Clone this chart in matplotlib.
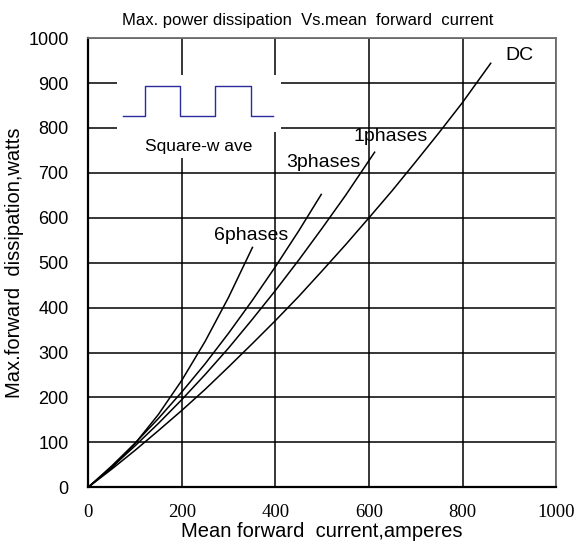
import matplotlib.pyplot as plt
from matplotlib.patches import Rectangle

# Curves (current in A, power in W)
dc_x = [0, 50, 100, 150, 200, 250, 300, 350, 400, 450, 500, 550, 600, 650, 700, 750, 800, 860]
dc_y = [0, 40, 82, 126, 171, 218, 268, 319, 371, 425, 482, 540, 600, 661, 725, 790, 857, 944]

ph1_x = [0, 50, 100, 150, 200, 250, 300, 350, 400, 450, 500, 550, 612]
ph1_y = [0, 44, 92, 142, 195, 251, 310, 373, 438, 506, 577, 650, 746]

ph3_x = [0, 50, 100, 150, 200, 250, 300, 350, 400, 450, 498]
ph3_y = [0, 47, 98, 153, 212, 275, 343, 415, 491, 571, 652]

ph6_x = [0, 50, 100, 150, 200, 250, 300, 351]
ph6_y = [0, 43, 97, 162, 238, 325, 423, 534]

# little square-wave sketch in the top left corner
wave_x = [75, 122, 122, 197, 197, 270, 270, 347, 347, 394]
wave_y = [827, 827, 894, 894, 827, 827, 894, 894, 827, 827]

x_ticks = [0, 200, 400, 600, 800, 1000]
y_ticks = [0, 100, 200, 300, 400, 500, 600, 700, 800, 900, 1000]

plt.rcParams['font.family'] = ['Liberation Sans', 'DejaVu Sans']

fig = plt.figure(figsize=(5.8, 5.45), dpi=100)
ax = fig.add_axes([0.152, 0.106, 0.807, 0.824])

ax.set_xlim(0, 1000)
ax.set_ylim(0, 1000)
ax.set_xticks(x_ticks)
ax.set_yticks(y_ticks)
ax.grid(True, color="black", linewidth=1.1)
ax.set_axisbelow(True)

# white boxes that hide the grid behind the inset
ax.add_patch(Rectangle((62, 790), 349, 128, facecolor="white", edgecolor="none", zorder=1.5))
ax.add_patch(Rectangle((100, 733), 278, 60, facecolor="white", edgecolor="none", zorder=1.5))

ax.plot(wave_x, wave_y, color="#2b2b9c", linewidth=1.0, zorder=3)
ax.text(237, 758, "Square-w ave", fontsize=12.5, ha="center", va="center", zorder=3)

for xs, ys in [(dc_x, dc_y), (ph1_x, ph1_y), (ph3_x, ph3_y), (ph6_x, ph6_y)]:
    ax.plot(xs, ys, color="black", linewidth=1.1, zorder=3)

ax.text(922, 962, "DC", fontsize=14, ha="center", va="center")
ax.text(646, 782, "1phases", fontsize=14, ha="center", va="center")
ax.text(503, 722, "3phases", fontsize=14, ha="center", va="center")
ax.text(349, 561, "6phases", fontsize=14, ha="center", va="center")

ax.tick_params(length=0)
ax.tick_params(axis="y", labelsize=13, pad=14)
ax.tick_params(axis="x", labelsize=13.5, pad=12)
for lab in ax.get_xticklabels():
    lab.set_family("Liberation Serif")

for side in ["left", "bottom"]:
    ax.spines[side].set_linewidth(1.6)
    ax.spines[side].set_color("black")
for side in ["top", "right"]:
    ax.spines[side].set_linewidth(1.3)
    ax.spines[side].set_color("#707070")

ax.set_xlabel("Mean forward  current,amperes", fontsize=14.5, labelpad=1)
ax.set_ylabel("Max.forward  dissipation,watts", fontsize=14.5, labelpad=3)
fig.text(0.531, 0.963, "Max. power dissipation  Vs.mean  forward  current",
         fontsize=12, ha="center", va="center")

fig.savefig("out.png", dpi=100)
